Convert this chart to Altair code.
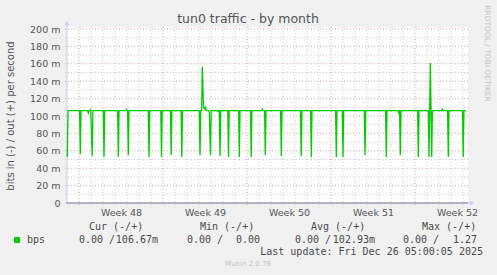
import altair as alt
import pandas as pd

# ---------------- text content ----------------
TITLE = "tun0 traffic - by month"
Y_TITLE = "bits in (-) / out (+) per second"
WATERMARK = "RRDTOOL / TOBI OETIKER"
FOOTER = "Munin 2.0.76"
LAST_UPDATE = "Last update: Fri Dec 26 05:00:05 2025"
SERIES_NAME = "bps"
LEGEND_HEADERS = ["Cur (-/+)", "Min (-/+)", "Avg (-/+)", "Max (-/+)"]
LEGEND_IN = ["0.00 /", "0.00 /", "0.00 /", "0.00 /"]
LEGEND_OUT = ["106.67m", "0.00", "102.93m", "1.27"]

# ---------------- axes / grid (hours since left edge, 2 h per pixel) -------
y_major = [20, 40, 60, 80, 100, 120, 140, 160, 180, 200]
y_minor = [10, 30, 50, 70, 90, 110, 130, 150, 170, 190]
y_labels = [0, 20, 40, 60, 80, 100, 120, 140, 160, 180, 200]
week_starts = [24, 192, 360, 528, 696]
day_lines = [48, 72, 96, 120, 144, 168, 216, 240, 264, 288, 312, 336, 384, 408,
             432, 456, 480, 504, 552, 576, 600, 624, 648, 672, 720, 744, 768, 792]
week_centers = [108, 276, 444, 612, 780]
week_names = ["Week 48", "Week 49", "Week 50", "Week 51", "Week 52"]

# ---------------- series (out, in milli-bits/s) ----------------
baseline = 106.2
event_hours = [0.6, 26.6, 42.6, 47.4, 50.4, 74, 102.6, 119.4, 122.6, 164, 189, 208.4,
               229.6, 266, 270.6, 273, 275, 277, 284.6, 287, 302, 306, 323, 344.6,
               368.4, 390.6, 396.6, 428.6, 468.4, 488.6, 538.6, 552, 596, 638.6,
               663.4, 666.6, 702.6, 724, 726.6, 729.4, 750.6, 762.6, 792.4]
event_values = [53, 56, 103.5, 108, 54, 53, 53, 107.5, 55, 53, 53, 55,
                53, 55, 157, 110, 108, 110, 105, 55, 105, 54, 53, 53,
                53, 108, 55, 54, 54, 53, 53, 53, 55, 53,
                104, 55, 53, 53, 161, 53, 108, 53, 53]
end_hour = 798

pts_h, pts_v = [], []
for i, (h, v) in enumerate(zip(event_hours, event_values)):
    if i > 0 and h - event_hours[i - 1] > 3:
        pts_h += [event_hours[i - 1] + 1.4, h - 1.4]
        pts_v += [baseline, baseline]
    pts_h.append(h)
    pts_v.append(v)
pts_h += [event_hours[-1] + 1.4, end_hour]
pts_v += [baseline, baseline]
series = pd.DataFrame({"h": pts_h, "v": pts_v})

W, H = 400, 174
one = pd.DataFrame({"a": [0]})
xs = alt.Scale(domain=[0, 800])
ys = alt.Scale(domain=[0, 200])

MINOR = "#cacaca"
MAJOR = "#e2a2a2"
AXISBLUE = "#c8c8ff"

week_expr = "[" + ",".join("'%s'" % n for n in week_names) + "][indexof([" + \
    ",".join(str(c) for c in week_centers) + "], datum.value)]"

X_AXIS = alt.Axis(
    values=week_centers, labelExpr=week_expr, ticks=False, domain=False, grid=False,
    labelPadding=4, labelFontSize=9.5, labelColor="#555555", labelFont="DejaVu Sans",
    labelFlush=False, labelOverlap=False, title=None)
Y_AXIS = alt.Axis(
    values=y_labels, labelExpr="datum.value == 0 ? '0' : datum.value + ' m'",
    ticks=False, domain=False, grid=False, labelPadding=7, labelFontSize=9.5,
    labelColor="#555555", labelFont="DejaVu Sans", title=None)

white = alt.Chart(one).mark_rect(color="white").encode(
    x=alt.value(0), x2=alt.value(401), y=alt.value(-2), y2=alt.value(H))

vminor = alt.Chart(pd.DataFrame({"h": day_lines})).mark_rule(
    color=MINOR, strokeDash=[1, 2], strokeWidth=1).encode(
    x=alt.X("h:Q", scale=xs, axis=X_AXIS), y=alt.value(-2), y2=alt.value(H + 2))
vmajor = alt.Chart(pd.DataFrame({"h": week_starts})).mark_rule(
    color=MAJOR, strokeDash=[1, 2], strokeWidth=1).encode(
    x=alt.X("h:Q", scale=xs, axis=X_AXIS), y=alt.value(-2), y2=alt.value(H + 3))
hminor = alt.Chart(pd.DataFrame({"v": y_minor})).mark_rule(
    color=MINOR, strokeDash=[1, 2], strokeWidth=1).encode(
    y=alt.Y("v:Q", scale=ys, axis=Y_AXIS), x=alt.value(-2), x2=alt.value(401))
hmajor = alt.Chart(pd.DataFrame({"v": y_major})).mark_rule(
    color=MAJOR, strokeDash=[1, 2], strokeWidth=1).encode(
    y=alt.Y("v:Q", scale=ys, axis=Y_AXIS), x=alt.value(-2), x2=alt.value(401))

yaxis_line = alt.Chart(one).mark_rule(color=AXISBLUE, strokeWidth=1).encode(
    x=alt.value(0), y=alt.value(-6), y2=alt.value(H))
xaxis_ext = alt.Chart(one).mark_rule(color=AXISBLUE, strokeWidth=1).encode(
    x=alt.value(400), x2=alt.value(405), y=alt.value(H))
zero_line = alt.Chart(one).mark_rule(color="#70708f", strokeWidth=1).encode(
    x=alt.value(-1), x2=alt.value(401), y=alt.value(H))
arrow_up = alt.Chart(one).mark_point(shape="triangle-up", filled=True, color=AXISBLUE,
                                     size=22, opacity=1).encode(
    x=alt.value(0), y=alt.value(-6))
arrow_right = alt.Chart(one).mark_point(shape="triangle-right", filled=True, color=AXISBLUE,
                                        size=22, opacity=1).encode(
    x=alt.value(405), y=alt.value(H))

line = alt.Chart(series).mark_line(color="#00cc00", strokeWidth=1.3).encode(
    x=alt.X("h:Q", scale=xs, axis=X_AXIS),
    y=alt.Y("v:Q", scale=ys, axis=Y_AXIS))


def txt(s, x, y, size, color, font="DejaVu Sans", align="left", angle=0, baseline="middle"):
    kw = dict(text=s, fontSize=size, color=color, font=font, align=align, baseline=baseline)
    if angle:
        kw["angle"] = angle
    return alt.Chart(one).mark_text(**kw).encode(x=alt.value(x - 67), y=alt.value(y - 29))


texts = [
    txt(TITLE, 248, 19, 12.5, "#555555", align="center"),
    txt(Y_TITLE, 11, 116, 10, "#555555", align="center", angle=270),
    txt(WATERMARK, 487, 53.5, 7.5, "#c4c4c4", align="center", angle=90),
    txt(FOOTER, 248, 264, 7, "#c0c0c0", align="center"),
    txt(LAST_UPDATE, 483, 252, 10, "#4a4a4a", font="DejaVu Sans Mono", align="right"),
    txt(SERIES_NAME, 27, 240, 10, "#4a4a4a", font="DejaVu Sans Mono"),
]
head_x = [89, 200, 311, 422]
in_x = [79, 187, 295, 403]
out_end = [158, 260, 375, 477]
for i in range(4):
    texts.append(txt(LEGEND_HEADERS[i], head_x[i], 227, 10, "#4a4a4a", font="DejaVu Sans Mono"))
    texts.append(txt(LEGEND_IN[i], in_x[i], 240, 10, "#4a4a4a", font="DejaVu Sans Mono"))
    texts.append(txt(LEGEND_OUT[i], out_end[i], 240, 10, "#4a4a4a", font="DejaVu Sans Mono",
                     align="right"))

swatch = alt.Chart(one).mark_square(color="#00cc00", size=36, opacity=1).encode(
    x=alt.value(17 - 67), y=alt.value(240 - 29))

chart = alt.layer(
    white, vminor, hminor, vmajor, hmajor, yaxis_line, xaxis_ext, zero_line,
    arrow_up, arrow_right, line, swatch, *texts
).properties(
    width=W, height=H,
    autosize=alt.AutoSizeParams(type="none"),
    padding={"left": 67, "top": 29, "right": 30, "bottom": 72},
    background="#f0f0f0",
).configure_view(stroke=None, fill=None)

chart.save("out.html", embed_options={"renderer": "svg", "actions": False})
